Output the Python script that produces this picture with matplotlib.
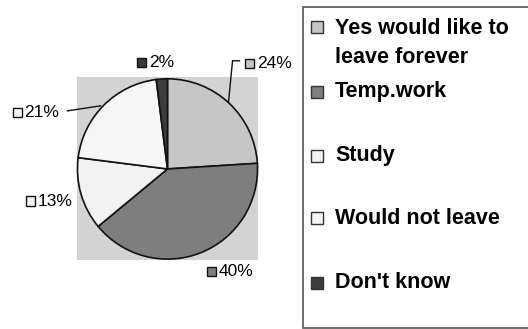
import matplotlib
matplotlib.use("Agg")
import matplotlib.pyplot as plt
from matplotlib.patches import Rectangle

# data
labels = ["Yes would like to\nleave forever", "Temp.work", "Study", "Would not leave", "Don't know"]
values = [24, 40, 13, 21, 2]
colors = ["#c6c6c6", "#7e7e7e", "#f2f2f2", "#f6f6f6", "#3c3c3c"]
pct_labels = ["24%", "40%", "13%", "21%", "2%"]

W, H = 528, 329
fig = plt.figure(figsize=(W / 100, H / 100), dpi=100)
fig.patch.set_facecolor("white")


def fx(px):
    return px / W


def fy(py):
    return 1 - py / H


# pie area (gray box 77..258 x 77..260 px)
ax = fig.add_axes([fx(77), fy(260), (258 - 77) / W, (260 - 77) / H])
ax.pie(values, colors=colors, startangle=90, counterclock=False, radius=1.0,
       frame=True, wedgeprops=dict(edgecolor="#111111", linewidth=1.2))
ax.set_facecolor("#d3d3d3")
for s in ax.spines.values():
    s.set_visible(False)
ax.set_xticks([])
ax.set_yticks([])
ax.set_xlim(-1.005, 1.005)
ax.set_ylim(-1.01, 1.02)
ax.set_aspect("auto")

# percent labels, positions in pie units (center ~ (167,168) px, 90 px / unit)
def to_data(px, py):
    return (px - 167) / 90.0, (168 - py) / 90.0

label_px = [(249, 63), (211, 270), (30, 200), (17, 112), (141, 62)]
sq = 9 / 90.0
for i, (lx, ly) in enumerate(label_px):
    x, y = to_data(lx, ly)
    ax.add_patch(Rectangle((x - sq / 2, y - sq / 2), sq, sq, facecolor=colors[i],
                           edgecolor="#111111", linewidth=1.0, clip_on=False))
    ax.text(x + sq / 2 + 0.03, y, pct_labels[i], fontsize=12.5, va="center", ha="left",
            family="Liberation Sans", clip_on=False)

# leader lines
x0, y0 = to_data(228, 101)
x1, y1 = to_data(232, 60)
x2, y2 = to_data(239, 60)
ax.plot([x0, x1, x2], [y0, y1, y2], color="#111111", lw=1.0, clip_on=False)
x0, y0 = to_data(100, 105)
x1, y1 = to_data(67, 110)
ax.plot([x0, x1], [y0, y1], color="#111111", lw=1.0, clip_on=False)

# legend box drawn by hand
fig.patches.append(Rectangle((fx(303), fy(328)), fx(560) - fx(303), fy(7) - fy(328),
                             transform=fig.transFigure, facecolor="white",
                             edgecolor="#555555", linewidth=1.2))
legend_y = [27, 92, 156, 218, 283]
for i, ly in enumerate(legend_y):
    fig.patches.append(Rectangle((fx(311), fy(ly + 6)), fx(323) - fx(311), fy(ly - 6) - fy(ly + 6),
                                 transform=fig.transFigure, facecolor=colors[i],
                                 edgecolor="#333333", linewidth=1.0))
    if "\n" in labels[i]:
        fig.text(fx(335), fy(ly - 9), labels[i], fontsize=15.5, fontweight="bold",
                 family="Liberation Sans", va="top", ha="left", linespacing=1.5)
    else:
        fig.text(fx(335), fy(ly), labels[i], fontsize=15.5, fontweight="bold",
                 family="Liberation Sans", va="center", ha="left")

fig.savefig("out.png", dpi=100)
